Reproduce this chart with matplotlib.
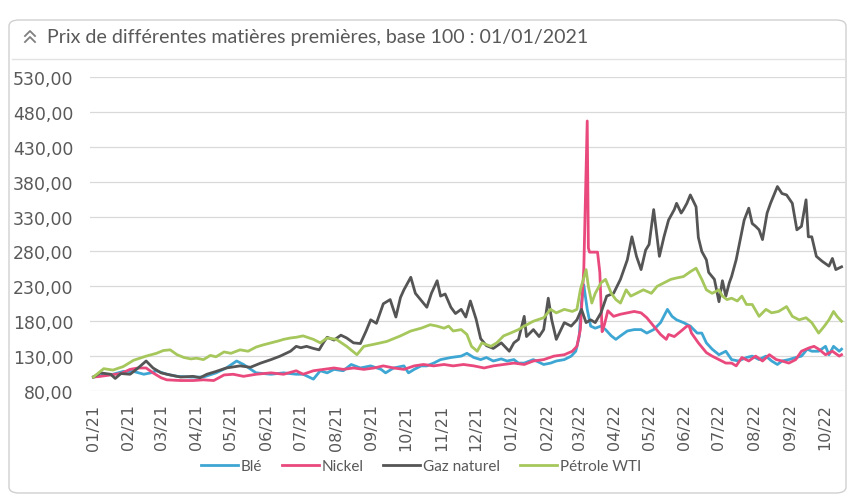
import numpy as np
import pandas as pd
import matplotlib
matplotlib.use("Agg")
import matplotlib.pyplot as plt
import matplotlib.dates as mdates
from matplotlib.patches import FancyBboxPatch
from matplotlib.lines import Line2D
from matplotlib.ticker import FuncFormatter

# ── Data : jours depuis le 01/01/2021, indice base 100 ─────────────────────
BASE = pd.Timestamp("2021-01-01")

ble_jours = [0, 9, 17, 26, 35, 44, 50, 55, 64, 73,
             85, 96, 107, 116, 125, 131, 142, 155, 166, 177,
             183, 192, 198, 204, 210, 218, 225, 233, 242, 251,
             255, 262, 271, 275, 280, 286, 291, 297, 303, 312,
             321, 326, 332, 338, 343, 349, 356, 361, 367, 371,
             376, 384, 393, 399, 404, 411, 417, 421, 424, 426,
             428, 431, 434, 438, 443, 447, 452, 456, 460, 466,
             472, 478, 483, 489, 495, 501, 505, 509, 515, 521,
             527, 531, 535, 540, 546, 552, 557, 563, 570, 575,
             581, 587, 592, 597, 601, 607, 613, 618, 623, 627,
             633, 639, 642, 646, 651, 653]
ble_vals = [100, 103, 104, 108, 108, 104, 106, 109, 104, 101,
            100, 100, 106, 113, 123, 118, 106, 104, 106, 104,
            104, 97, 109, 106, 111, 109, 118, 113, 116, 111,
            106, 113, 116, 106, 111, 116, 116, 120, 125, 128,
            130, 134, 128, 125, 128, 123, 126, 123, 125, 120,
            120, 125, 118, 120, 123, 125, 130, 137, 158, 206,
            232, 197, 173, 170, 173, 168, 159, 154, 159, 166,
            168, 168, 163, 168, 178, 197, 187, 182, 178, 173,
            163, 163, 149, 140, 132, 137, 125, 123, 128, 130,
            125, 130, 123, 118, 123, 125, 128, 130, 140, 137,
            137, 144, 132, 144, 137, 140]

nickel_jours = [0, 6, 15, 24, 32, 39, 46, 52, 59, 64,
                76, 87, 96, 105, 114, 122, 131, 142, 155, 166,
                177, 183, 192, 201, 210, 218, 227, 236, 245, 253,
                262, 271, 280, 288, 297, 306, 314, 323, 332, 341,
                349, 358, 367, 376, 384, 393, 402, 411, 418, 422,
                425, 428, 431, 432, 433, 440, 442, 444, 446, 449,
                454, 460, 466, 472, 478, 483, 489, 495, 500, 502,
                507, 513, 518, 520, 522, 528, 535, 540, 546, 552,
                557, 561, 566, 572, 578, 584, 590, 596, 601, 607,
                613, 618, 625, 629, 633, 639, 645, 651, 653]
nickel_vals = [100, 101, 103, 105, 111, 113, 113, 106, 99, 96,
               95, 95, 96, 95, 103, 104, 101, 104, 106, 104,
               109, 104, 109, 111, 113, 111, 113, 111, 113, 116,
               113, 111, 116, 118, 116, 118, 116, 118, 116, 113,
               116, 118, 120, 118, 123, 125, 130, 132, 137, 144,
               168, 254, 467, 285, 279, 279, 250, 165, 175, 195,
               187, 190, 192, 194, 192, 185, 173, 161, 154, 161,
               158, 166, 173, 173, 163, 149, 135, 130, 125, 120,
               120, 116, 128, 123, 130, 123, 132, 125, 123, 120,
               125, 137, 142, 144, 140, 132, 137, 130, 132]

gaz_jours = [0, 6, 15, 19, 24, 32, 39, 46, 52, 59,
             67, 76, 87, 93, 99, 107, 116, 128, 137, 146,
             155, 163, 172, 177, 181, 186, 192, 197, 201, 204,
             210, 216, 221, 227, 233, 238, 242, 247, 253, 259,
             264, 268, 271, 277, 281, 286, 291, 295, 300, 303,
             307, 312, 316, 321, 325, 329, 334, 338, 343, 349,
             356, 363, 367, 371, 376, 378, 384, 389, 393, 397,
             400, 404, 411, 417, 422, 426, 430, 434, 438, 443,
             448, 454, 460, 466, 470, 474, 478, 482, 485, 489,
             494, 498, 502, 507, 509, 513, 515, 518, 521, 526,
             528, 531, 535, 537, 542, 546, 549, 552, 555, 557,
             561, 565, 568, 572, 575, 578, 581, 584, 588, 591,
             594, 597, 601, 605, 610, 614, 618, 622, 624, 627,
             631, 636, 642, 645, 648, 653]
gaz_vals = [100, 106, 104, 98, 105, 104, 113, 123, 113, 106,
            103, 100, 101, 99, 104, 108, 113, 116, 114, 120,
            125, 130, 137, 144, 142, 144, 141, 139, 150, 157,
            153, 160, 156, 149, 148, 166, 182, 177, 205, 211,
            186, 214, 225, 243, 220, 210, 200, 220, 238, 216,
            219, 200, 191, 197, 186, 209, 183, 155, 145, 141,
            149, 137, 149, 154, 187, 158, 168, 158, 168, 213,
            182, 154, 178, 173, 182, 197, 178, 182, 178, 192,
            216, 220, 240, 268, 301, 273, 254, 282, 290, 340,
            273, 301, 325, 340, 349, 335, 340, 349, 361, 344,
            300, 280, 268, 250, 240, 208, 238, 216, 235, 244,
            268, 301, 325, 342, 320, 316, 311, 297, 335, 349,
            361, 373, 363, 361, 349, 311, 316, 354, 301, 301,
            273, 266, 259, 270, 254, 258]

petrole_jours = [0, 9, 17, 26, 35, 46, 55, 61, 67, 73,
                 79, 85, 90, 96, 102, 107, 114, 120, 128, 135,
                 142, 148, 155, 162, 166, 172, 177, 183, 192, 198,
                 204, 212, 221, 230, 236, 245, 256, 268, 277, 286,
                 294, 300, 306, 310, 314, 321, 326, 330, 335, 339,
                 347, 352, 358, 364, 371, 376, 384, 393, 399, 404,
                 411, 418, 422, 425, 430, 432, 435, 438, 443, 447,
                 452, 456, 460, 465, 469, 474, 480, 487, 492, 498,
                 504, 509, 515, 521, 526, 531, 535, 540, 546, 549,
                 553, 557, 562, 566, 570, 575, 581, 587, 592, 598,
                 605, 610, 616, 622, 627, 633, 638, 642, 646, 649,
                 653]
petrole_vals = [100, 112, 110, 115, 124, 130, 134, 138, 139, 132,
                128, 126, 127, 125, 131, 129, 136, 134, 139, 137,
                143, 146, 149, 152, 154, 156, 157, 159, 154, 149,
                156, 154, 144, 132, 144, 147, 151, 159, 166, 170,
                175, 173, 170, 173, 166, 168, 161, 144, 137, 149,
                144, 149, 159, 163, 168, 173, 180, 185, 197, 192,
                197, 194, 197, 225, 254, 230, 206, 220, 235, 240,
                220, 211, 206, 225, 216, 220, 225, 220, 230, 235,
                240, 242, 244, 251, 256, 240, 225, 220, 225, 216,
                211, 213, 209, 216, 204, 204, 187, 197, 192, 194,
                201, 187, 182, 185, 178, 163, 173, 182, 194, 187,
                180]

series = [
    ("Blé", ble_jours, ble_vals, "#3ea6d3"),
    ("Nickel", nickel_jours, nickel_vals, "#e9497c"),
    ("Gaz naturel", gaz_jours, gaz_vals, "#555555"),
    ("Pétrole WTI", petrole_jours, petrole_vals, "#a6c75c"),
]

TITLE = "Prix de différentes matières premières, base 100 : 01/01/2021"
TXT = "#595959"

plt.rcParams["font.family"] = ["Lato", "DejaVu Sans"]

W, H = 849, 502
fig = plt.figure(figsize=(W / 100, H / 100), dpi=100)


def fx(px):
    return px / W


def fy(py):
    return 1 - py / H


# ── Chart frame (drawn behind the axes) ────────────────────────────────────
frame = FancyBboxPatch((fx(9), fy(494)), fx(846) - fx(9), fy(21) - fy(494),
                       boxstyle="round,pad=0,rounding_size=0.012",
                       transform=fig.transFigure, fc="white", ec="#d0d0d0",
                       lw=1.0, zorder=-10)
fig.patches.append(frame)
fig.add_artist(Line2D([fx(12), fx(845)], [fy(60), fy(60)],
                      transform=fig.transFigure, color="#e3e3e3", lw=1.0))

# double chevron icon + title
for dy in (0, 6):
    fig.add_artist(Line2D([fx(25), fx(30), fx(35)],
                          [fy(37 + dy), fy(32 + dy), fy(37 + dy)],
                          transform=fig.transFigure, color="#7f7f7f", lw=1.3))
fig.text(fx(47), fy(37), TITLE, fontsize=14.1, color=TXT,
         ha="left", va="center")

# ── Plot area ──────────────────────────────────────────────────────────────
ax = fig.add_axes([fx(90), fy(392), fx(845) - fx(90), fy(78) - fy(392)])
ax.patch.set_alpha(0)
for name, jours, vals, col in series:
    dates = BASE + pd.to_timedelta(jours, unit="D")
    ax.plot(dates, vals, color=col, lw=2.0, label=name, solid_joinstyle="round")

ax.set_ylim(80, 530)
ax.set_yticks(np.arange(80, 531, 50))
ax.yaxis.set_major_formatter(FuncFormatter(lambda v, _: f"{v:.2f}".replace(".", ",")))
ax.set_xlim(BASE - pd.Timedelta(days=3), BASE + pd.Timedelta(days=656))
ax.xaxis.set_major_locator(mdates.MonthLocator())
ax.xaxis.set_major_formatter(mdates.DateFormatter("%m/%y"))
ax.grid(axis="y", color="#d9d9d9", lw=0.9)
ax.set_axisbelow(True)
for s in ax.spines.values():
    s.set_visible(False)
ax.tick_params(axis="both", length=0, labelcolor=TXT,
               labelfontfamily="DejaVu Sans")
ax.tick_params(axis="y", pad=12, labelsize=12.5)
ax.tick_params(axis="x", pad=9, rotation=90, labelsize=11.5)

fig.legend(loc="center", bbox_to_anchor=(fx(421), fy(467)), ncol=4,
           frameon=False, fontsize=11, labelcolor=TXT, handlelength=2.4,
           handletextpad=0.2, columnspacing=1.3)

fig.savefig("out.png", dpi=100)
